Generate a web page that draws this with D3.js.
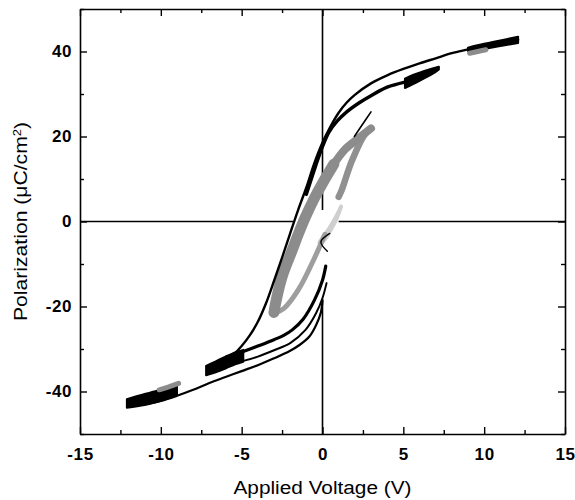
<!DOCTYPE html>
<html>
<head>
<meta charset="utf-8">
<script src="https://cdn.jsdelivr.net/npm/d3@7"></script>
<style>
  body { margin: 0; background: #fff; }
  .tick text { font-family: "Liberation Sans", Arial, sans-serif; font-weight: bold; font-size: 17px; letter-spacing: 0.6px; }
  .title { font-family: "Liberation Sans", Arial, sans-serif; font-size: 18px; }
</style>
</head>
<body>
<div id="vis"></div>
<script>
// frame dimensions and plot box
const FRAME_WIDTH = 575;
const FRAME_HEIGHT = 500;
const MARGINS = {left: 80, right: 10, top: 9, bottom: 66};

// axis ticks
const xMajor = [-15, -10, -5, 0, 5, 10, 15];
const xMinor = [-12.5, -7.5, -2.5, 2.5, 7.5, 12.5];
const yMajor = [-40, -20, 0, 20, 40];
const yMinor = [-50, -30, -10, 10, 30, 50];

// zero lines (pieces that are not hidden by the loops)
const hZeroFrom = [-15, 1.0];
const hZeroTo = [-1.8, 15];
const vZeroFrom = [-50, 2.7];
const vZeroTo = [-18.5, 50];

// +-12 V loop, descending branch
const outerTopV = [12.1, 11, 10, 9, 8, 7, 6, 5, 4, 3, 2, 1.5, 1, 0.5, 0, -0.5, -1, -1.5, -2, -2.5, -3, -3.5, -4, -4.5, -5, -5.5, -6.3, -7.1];
const outerTopP = [42.8, 42.2, 41.4, 40.5, 39.6, 38.4, 37.2, 35.9, 34.4, 32.5, 29.8, 28.0, 25.6, 22.4, 18.6, 13.8, 8.0, 2.8, -2.8, -8.5, -14, -19.3, -23.6, -26.8, -29.3, -31.3, -33.5, -35];
// +-12 V loop, ascending branch (stops near 0 V)
const outerLowV = [-12, -11, -10, -9, -8, -7, -6, -5, -4, -3, -2, -1.4, -0.8, -0.4, -0.1, 0];
const outerLowP = [-43.6, -43, -42.2, -41, -39.6, -38, -36.6, -35.2, -33.8, -32.2, -30.4, -29, -27, -24.4, -21.4, -18.5];

// +-7 V loop
const midTopV = [5.1, 4, 3, 2.3, 1.5, 0.9, 0.4, 0, -0.45, -1.0];
const midTopP = [32.8, 31.6, 29.6, 28, 25.8, 23.6, 21.0, 17.6, 12.8, 6.4];
const midLowAV = [-4.9, -4, -3, -2.4, -1.87, -1.2, -0.5, 0, 0.2];
const midLowAP = [-30.6, -29.3, -27.8, -26.8, -25.5, -23, -18.5, -13.8, -10.5];
const midLowBV = [-4.9, -4, -3, -2, -1.05, -0.4, 0, 0.25];
const midLowBP = [-32.8, -31.8, -30.3, -28.6, -25.5, -21.6, -18, -14.5];

// thick tips: voltage, upper and lower edge
const outerTipTopV = [9.0, 10, 11, 12.1];
const outerTipTopHi = [40.9, 41.8, 42.6, 43.5];
const outerTipTopLo = [40.1, 40.6, 41.3, 42.0];
const outerTipBotV = [-12.1, -11, -10, -9.0];
const outerTipBotHi = [-41.8, -40.6, -39.6, -38.6];
const outerTipBotLo = [-43.8, -43.2, -42.2, -40.9];
const midTipTopV = [5.1, 5.6, 6.2, 6.8, 7.2];
const midTipTopHi = [33.6, 34.5, 35.3, 36.0, 36.4];
const midTipTopLo = [31.4, 32.3, 33.5, 34.7, 35.8];
const midTipBotV = [-7.2, -6.6, -6.0, -5.4, -4.9];
const midTipBotHi = [-34.0, -32.9, -31.8, -30.8, -30.2];
const midTipBotLo = [-36.2, -35.5, -34.6, -33.6, -33.0];

// +-3 V loop (grey): wide descending band, narrower return strands
const grayDownTopV = [3.0, 2.2, 1.4, 0.7];
const grayDownTopP = [21.9, 19.5, 17, 13.5];
const grayDownV = [0.7, 0, -0.5, -1.05, -1.5, -1.87, -2.5, -2.9, -3.0];
const grayDownP = [13.5, 9, 5.5, 1.1, -3, -6.7, -13, -19.2, -21.4];
const grayUpTopV = [3.0, 2.6, 1.8, 1.2, 1.0];
const grayUpTopP = [21.9, 20.4, 14.1, 7.5, 5.8];
const grayUpLowV = [-3.0, -2.4, -1.5, -0.46, 0.15];
const grayUpLowP = [-21.6, -20.5, -16.1, -8.3, -3];
const grayPatchTopV = [9.1, 9.6, 10.1];
const grayPatchTopP = [39.6, 40.0, 40.4];
const grayPatchBotV = [-10.1, -9.5, -8.9];
const grayPatchBotP = [-39.6, -38.9, -38.1];

// small loop (light grey) and stray black strokes
const smallV = [1.15, 0.85, 0.45, 0.1, -0.2, 0.1, 0.5, 0.85, 1.15];
const smallP = [3.5, 1.2, -1.4, -3.4, -5.0, -4.4, -2.0, 0.5, 3.5];
const blackTopV = [3.0, 2.5, 1.97];
const blackTopP = [25.8, 23.0, 20];
const blackSmallV = [0.45, -0.1, 0.3];
const blackSmallP = [-2.8, -4.8, -7];

const FRAME = d3.select("#vis")
  .append("svg")
    .attr("width", FRAME_WIDTH)
    .attr("height", FRAME_HEIGHT);

const x = d3.scaleLinear().domain([-15, 15]).range([MARGINS.left, FRAME_WIDTH - MARGINS.right]);
const y = d3.scaleLinear().domain([-50, 50]).range([FRAME_HEIGHT - MARGINS.bottom, MARGINS.top]);

const zip = (vs, ps) => vs.map((v, i) => [v, ps[i]]);
const line = d3.line().x(d => x(d[0])).y(d => y(d[1])).curve(d3.curveCatmullRom);
const area = d3.area().x(d => x(d[0])).y0(d => y(d[1])).y1(d => y(d[2])).curve(d3.curveCatmullRom);

// zero lines
FRAME.selectAll(".hzero")
  .data(hZeroFrom)
  .enter()
  .append("line")
    .attr("x1", d => x(d))
    .attr("x2", (d, i) => x(hZeroTo[i]))
    .attr("y1", y(0)).attr("y2", y(0))
    .attr("stroke", "#000").attr("stroke-width", 1.6);

FRAME.selectAll(".vzero")
  .data(vZeroFrom)
  .enter()
  .append("line")
    .attr("y1", d => y(d))
    .attr("y2", (d, i) => y(vZeroTo[i]))
    .attr("x1", x(0)).attr("x2", x(0))
    .attr("stroke", "#000").attr("stroke-width", 1.6);

// curves
function curve(vs, ps, color, width) {
  FRAME.append("path")
    .attr("d", line(zip(vs, ps)))
    .attr("fill", "none")
    .attr("stroke", color)
    .attr("stroke-width", width)
    .attr("stroke-linecap", "round");
}

function tip(vs, hi, lo) {
  FRAME.append("path")
    .attr("d", area(vs.map((v, i) => [v, hi[i], lo[i]])))
    .attr("fill", "#000")
    .attr("stroke", "#000")
    .attr("stroke-width", 2)
    .attr("stroke-linejoin", "round");
}

curve(smallV, smallP, "#cfcfcf", 4);
curve(grayUpLowV, grayUpLowP, "#9e9e9e", 5);
curve(grayUpTopV, grayUpTopP, "#909090", 6.5);
curve(grayDownTopV, grayDownTopP, "#8c8c8c", 8);
curve(grayDownV, grayDownP, "#8c8c8c", 11);
curve(blackTopV, blackTopP, "#000", 1.6);
curve(blackSmallV, blackSmallP, "#000", 1.4);

curve(outerTopV, outerTopP, "#000", 2.4);
curve(outerLowV, outerLowP, "#000", 2.2);
curve(midTopV, midTopP, "#000", 3.4);
curve(midLowAV, midLowAP, "#000", 3.2);
curve(midLowBV, midLowBP, "#000", 2);

tip(outerTipTopV, outerTipTopHi, outerTipTopLo);
tip(outerTipBotV, outerTipBotHi, outerTipBotLo);
tip(midTipTopV, midTipTopHi, midTipTopLo);
tip(midTipBotV, midTipBotHi, midTipBotLo);

curve(grayPatchTopV, grayPatchTopP, "#8c8c8c", 5);
curve(grayPatchBotV, grayPatchBotP, "#8c8c8c", 5);

// axes, ticks pointing inward on all four sides
const H = FRAME_HEIGHT - MARGINS.bottom;
const W = FRAME_WIDTH - MARGINS.right;

function axis(gen, tx, ty, vals, size, labels) {
  const g = FRAME.append("g")
    .attr("transform", `translate(${tx},${ty})`)
    .call(gen.tickValues(vals).tickSize(-size).tickSizeOuter(0).tickPadding(labels ? 14 : 0)
      .tickFormat(labels ? (d => String(d)) : ""));
  g.select(".domain").attr("stroke-width", 1.6);
  g.selectAll(".tick line").attr("stroke-width", 1.4);
  return g;
}

axis(d3.axisBottom(x), 0, H, xMajor, 7, true);
axis(d3.axisBottom(x), 0, H, xMinor, 4, false).select(".domain").remove();
axis(d3.axisTop(x), 0, MARGINS.top, xMajor, 7, false);
axis(d3.axisTop(x), 0, MARGINS.top, xMinor, 4, false).select(".domain").remove();
const yl = axis(d3.axisLeft(y), MARGINS.left, 0, yMajor, 7, true);
yl.selectAll(".tick text").attr("x", -8);
axis(d3.axisLeft(y), MARGINS.left, 0, yMinor, 4, false).select(".domain").remove();
axis(d3.axisRight(y), W, 0, yMajor, 7, false);
axis(d3.axisRight(y), W, 0, yMinor, 4, false).select(".domain").remove();

// axis titles
FRAME.append("text")
  .attr("class", "title")
  .attr("x", x(0))
  .attr("y", 494)
  .attr("text-anchor", "middle")
  .attr("textLength", 178)
  .attr("lengthAdjust", "spacingAndGlyphs")
  .text("Applied Voltage (V)");

const yt = FRAME.append("text")
  .attr("class", "title")
  .attr("transform", `translate(27,${y(0)}) rotate(-90)`)
  .attr("text-anchor", "middle")
  .attr("textLength", 199)
  .attr("lengthAdjust", "spacingAndGlyphs");
yt.append("tspan").text("Polarization (μC/cm");
yt.append("tspan").attr("baseline-shift", "super").attr("font-size", "11px").text("2");
yt.append("tspan").text(")");
</script>
</body>
</html>
